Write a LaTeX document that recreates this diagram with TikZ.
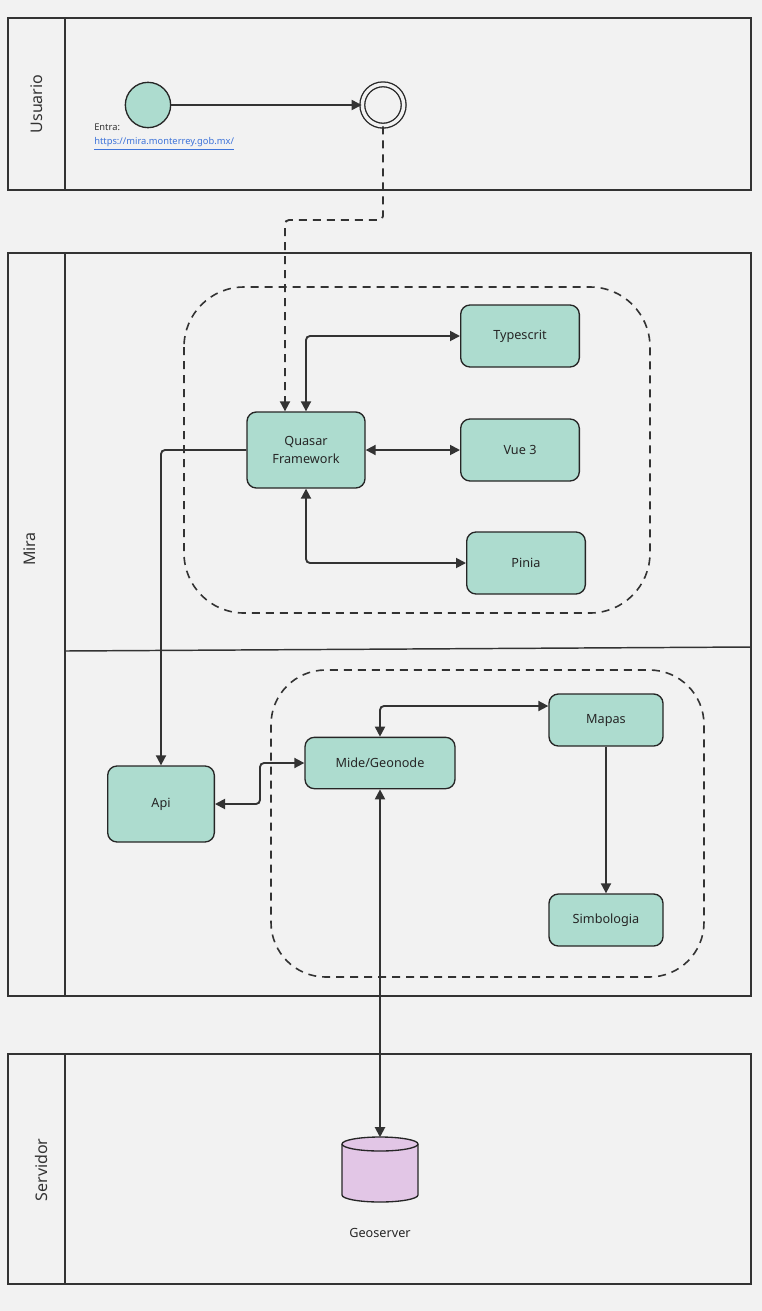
\documentclass[tikz,border=0pt]{standalone}
\usepackage{fontspec}
\setmainfont{Noto Sans}
\usetikzlibrary{arrows.meta, positioning, shapes.geometric, calc}
\definecolor{miraMint}{HTML}{ADDCCF}
\definecolor{miraLila}{HTML}{E2C6E6}
\definecolor{miraInk}{HTML}{333333}
\definecolor{miraBg}{HTML}{F2F2F2}
\definecolor{miraLink}{HTML}{3D73D9}
\tikzset{
  lane/.style     = {draw=miraInk, line width=1.1pt},
  lanelbl/.style  = {rotate=90, font=\fontsize{12}{14}\selectfont, text=miraInk},
  box/.style      = {rectangle, rounded corners=7pt, draw=black!85, line width=1pt,
                     fill=miraMint, inner sep=0pt, align=center, text=black!85,
                     font=\fontsize{9.5}{13.5}\selectfont},
  group/.style    = {draw=miraInk, line width=1.2pt, dash pattern=on 6pt off 4.5pt,
                     rounded corners=#1},
  link/.style     = {-{Triangle[length=7.5pt,width=7.5pt]}, line width=1.4pt, draw=miraInk,
                     rounded corners=3pt},
  both/.style     = {{Triangle[length=7.5pt,width=7.5pt]}-{Triangle[length=7.5pt,width=7.5pt]},
                     line width=1.4pt, draw=miraInk, rounded corners=3pt},
  dashlink/.style = {link, dash pattern=on 6pt off 4.5pt},
  lbl/.style      = {font=\fontsize{9.5}{11.5}\selectfont, text=black!85},
}

\begin{document}
\begin{tikzpicture}[x=0.75pt,y=-0.75pt]
  \fill[miraBg] (0,0) rectangle (762,1311);
  \useasboundingbox (0,0) rectangle (762,1311);

  % lanes
  \draw[lane] (8,18) rectangle (751,190);
  \draw[lane] (65,18) -- (65,190);
  \draw[lane] (8,253) rectangle (751,996);
  \draw[lane] (65,253) -- (65,996);
  \draw[lane] (65,651) -- (751,647);
  \draw[lane] (8,1054) rectangle (751,1284);
  \draw[lane] (65,1054) -- (65,1284);
  \node[lanelbl] (usuario) at (37,104) {Usuario};
  \node[lanelbl] (mira) at (30,549) {Mira};
  \node[lanelbl] (servidor) at (41,1170) {Servidor};

  % groups
  \draw[group=45pt] (184,287) rectangle (650,613);
  \draw[group=41pt] (271,670) rectangle (704,977);

  % usuario
  \node[circle, draw=black!85, line width=1pt, fill=miraMint, minimum size=34pt,
        inner sep=0pt] (start) at (148,105) {};
  \node[circle, draw=black!85, line width=1pt, double=miraBg, double distance=2.6pt,
        minimum size=31pt, inner sep=0pt] (finish) at (383,105) {};
  \node[anchor=north west, align=left, inner sep=0pt,
        font=\fontsize{7}{10.5}\selectfont] (entra) at (94,124)
        {\textcolor{black!80}{Entra:}\\\textcolor{miraLink}{\underline{https://mira.monterrey.gob.mx/}}};

  % mira: frontend
  \node[box, minimum width=88.5pt, minimum height=57pt] (quasar) at (306,450) {Quasar\\Framework};
  \node[box, minimum width=89pt, minimum height=46.5pt] (typescrit) at (520,336) {Typescrit};
  \node[box, minimum width=89pt, minimum height=46.5pt] (vue) at (520,450) {Vue 3};
  \node[box, minimum width=89pt, minimum height=46.5pt] (pinia) at (526,563) {Pinia};

  % mira: backend
  \node[box, minimum width=80pt, minimum height=57pt] (api) at (161,804) {Api};
  \node[box, minimum width=112.5pt, minimum height=38.5pt] (mide) at (380,763) {Mide/Geonode};
  \node[box, minimum width=85.5pt, minimum height=39pt] (mapas) at (606,720) {Mapas};
  \node[box, minimum width=85.5pt, minimum height=39pt] (simbologia) at (606,920) {Simbologia};

  % servidor (database drawn by hand, node only gives the anchors)
  \node[minimum width=57pt, minimum height=48.75pt, inner sep=0pt] (geoserver) at (380,1170) {};
  \filldraw[fill=miraLila, draw=black!85, line width=1pt]
    (342,1144) -- (342,1195) arc[start angle=180, end angle=0, x radius=38, y radius=7]
    -- (418,1144) arc[start angle=0, end angle=-180, x radius=38, y radius=7] -- cycle;
  \draw[black!85, line width=1pt] (342,1144) arc[start angle=180, end angle=0, x radius=38, y radius=7];
  \node[lbl] (geolbl) at (380,1233) {Geoserver};

  % connectors
  \coordinate (drop) at (285,220);
  \draw[link] (start) -- (finish);
  \draw[dashlink] (finish.south) |- (drop) -- (drop |- quasar.north);
  \draw[both] (quasar.north) |- (typescrit.west);
  \draw[both] (quasar.east) -- (vue.west);
  \draw[both] (quasar.south) |- (pinia.west);
  \draw[link] (quasar.west) -| (api.north);
  \draw[both] (api.east) -- ++(45,0) |- (mide.west);
  \draw[both] (mide.north) |- ($(mapas.west)+(0,-14)$);
  \draw[link] (mapas) -- (simbologia);
  \draw[both] (mide.south) -- (geoserver.north);
\end{tikzpicture}
\end{document}
